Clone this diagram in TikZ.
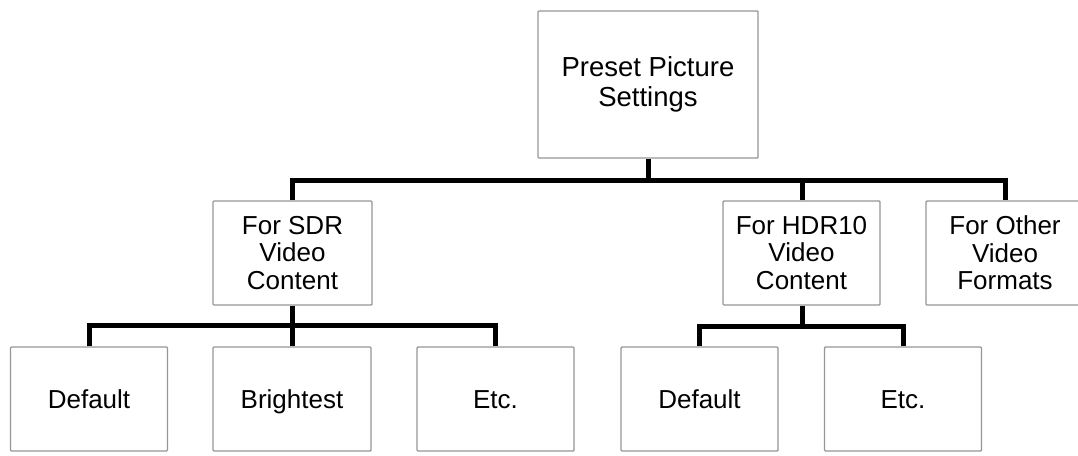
\documentclass[tikz,border=0pt]{standalone}
\usepackage{fontspec}
\setmainfont{Liberation Sans}
\definecolor{boxgray}{RGB}{150,150,150}
\tikzset{
  menubox/.style={draw=boxgray, line width=1.4pt, rounded corners=1pt, fill=white,
    inner sep=0pt, minimum width=157pt, minimum height=104pt,
    align=center, font=\fontsize{26}{27.5}\selectfont},
  leafbox/.style={menubox, text height=19pt, text depth=0pt},
  conn/.style={line width=5pt, black}
}
\begin{document}
\begin{tikzpicture}[x=1pt,y=-1pt]
  \useasboundingbox (0,0) rectangle (1078,455);
  \clip (0,0) rectangle (1078,455);

  % root
  \node[menubox, minimum width=220pt, minimum height=147pt,
        font=\fontsize{27.5}{29.5}\selectfont] (root) at (648,84.5)
        {Preset Picture\\Settings};

  % second level
  \node[menubox, minimum width=159pt] (sdr) at (292.5,253) {For SDR\\Video\\Content};
  \node[menubox] (hdr) at (801.5,253) {For HDR10\\Video\\Content};
  \node[menubox, minimum width=158pt] (other) at (1005,253) {For Other\\Video\\Formats};

  % third level
  \node[leafbox] (sdrdef) at (89,399) {Default};
  \node[leafbox, minimum width=158pt] (sdrbright) at (292,399) {Brightest};
  \node[leafbox] (sdretc) at (495.5,399) {Etc.};
  \node[leafbox] (hdrdef) at (699.5,399) {Default};
  \node[leafbox] (hdretc) at (903,399) {Etc.};

  % junction points of the connector bars
  \coordinate (bus1) at (648,180);
  \coordinate (bus2) at (292,325);
  \coordinate (bus3) at (802,326);

  % root to second level
  \draw[conn] (root.south) -- (bus1);
  \draw[conn] (sdr.north -| bus2) |- (bus1) -| (other.north);
  \draw[conn] (hdr.north -| bus3) -- (bus3 |- bus1);

  % SDR branch
  \draw[conn] (sdr.south -| bus2) -- (sdrbright.north);
  \draw[conn] (sdrdef.north) |- (bus2) -| (sdretc.north);

  % HDR10 branch
  \draw[conn] (hdr.south -| bus3) -- (bus3);
  \draw[conn] (hdrdef.north) |- (bus3) -| (hdretc.north);
\end{tikzpicture}
\end{document}
